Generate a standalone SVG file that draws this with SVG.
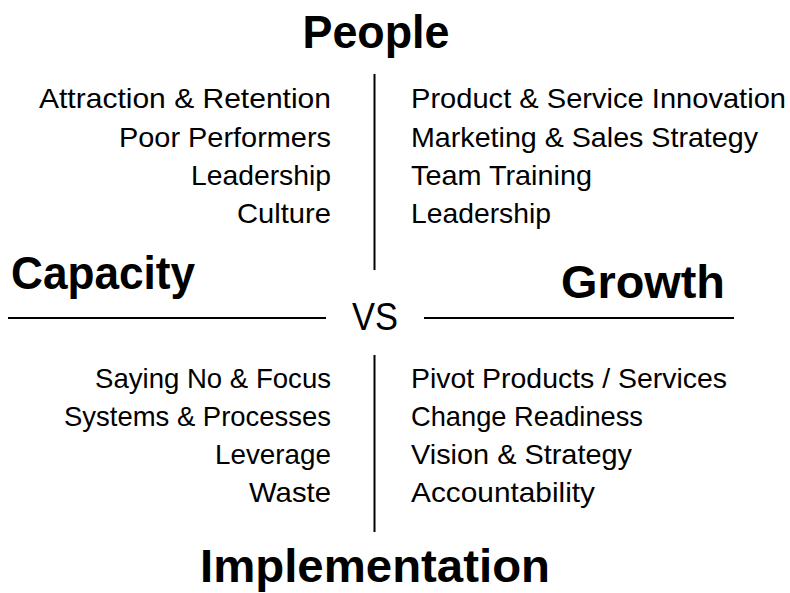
<svg xmlns="http://www.w3.org/2000/svg" width="790" height="593" viewBox="0 0 790 593">
<style>
text{font-family:"Liberation Sans",Arial,sans-serif;fill:#000}
.h{font-weight:bold;font-size:47px}
.b{font-size:28px}
.r{text-anchor:end}
.m{text-anchor:middle}
line{stroke:#000;stroke-width:2}
</style>
<rect width="790" height="593" fill="#fff"/>
<g id="connectors">
<line x1="374.5" y1="74" x2="374.5" y2="270"/>
<line x1="374.5" y1="355" x2="374.5" y2="532"/>
<line x1="8" y1="318" x2="326" y2="318"/>
<line x1="424" y1="318" x2="734" y2="318"/>
</g>
<g id="people"><text class="h m" x="376" y="48" textLength="147" lengthAdjust="spacingAndGlyphs">People</text></g>
<g id="capacity"><text class="h" x="11" y="289" textLength="184" lengthAdjust="spacingAndGlyphs">Capacity</text></g>
<g id="growth"><text class="h" x="561" y="298" textLength="164" lengthAdjust="spacingAndGlyphs">Growth</text></g>
<g id="implementation"><text class="h m" x="375" y="582" style="font-size:46px" textLength="350" lengthAdjust="spacingAndGlyphs">Implementation</text></g>
<g id="vs"><text class="m" x="375" y="330" style="font-size:39px" textLength="46" lengthAdjust="spacingAndGlyphs">VS</text></g>
<g id="people-capacity">
<text class="b r" x="331" y="108.3" textLength="292" lengthAdjust="spacingAndGlyphs">Attraction &amp; Retention</text>
<text class="b r" x="331" y="146.6" textLength="212" lengthAdjust="spacingAndGlyphs">Poor Performers</text>
<text class="b r" x="331" y="184.9" textLength="140" lengthAdjust="spacingAndGlyphs">Leadership</text>
<text class="b r" x="331" y="223.2" textLength="94" lengthAdjust="spacingAndGlyphs">Culture</text>
</g>
<g id="people-growth">
<text class="b" x="411" y="108.3" textLength="375" lengthAdjust="spacingAndGlyphs">Product &amp; Service Innovation</text>
<text class="b" x="411" y="146.6" textLength="347" lengthAdjust="spacingAndGlyphs">Marketing &amp; Sales Strategy</text>
<text class="b" x="411" y="184.9" textLength="181" lengthAdjust="spacingAndGlyphs">Team Training</text>
<text class="b" x="411" y="223.2" textLength="140" lengthAdjust="spacingAndGlyphs">Leadership</text>
</g>
<g id="implementation-capacity">
<text class="b r" x="331" y="387.5" textLength="236" lengthAdjust="spacingAndGlyphs">Saying No &amp; Focus</text>
<text class="b r" x="331" y="425.8" textLength="267" lengthAdjust="spacingAndGlyphs">Systems &amp; Processes</text>
<text class="b r" x="331" y="464.1" textLength="116" lengthAdjust="spacingAndGlyphs">Leverage</text>
<text class="b r" x="331" y="502.4" textLength="82" lengthAdjust="spacingAndGlyphs">Waste</text>
</g>
<g id="implementation-growth">
<text class="b" x="411" y="387.5" textLength="316" lengthAdjust="spacingAndGlyphs">Pivot Products / Services</text>
<text class="b" x="411" y="425.8" textLength="232" lengthAdjust="spacingAndGlyphs">Change Readiness</text>
<text class="b" x="411" y="464.1" textLength="221" lengthAdjust="spacingAndGlyphs">Vision &amp; Strategy</text>
<text class="b" x="411" y="502.4" textLength="184" lengthAdjust="spacingAndGlyphs">Accountability</text>
</g>
</svg>
